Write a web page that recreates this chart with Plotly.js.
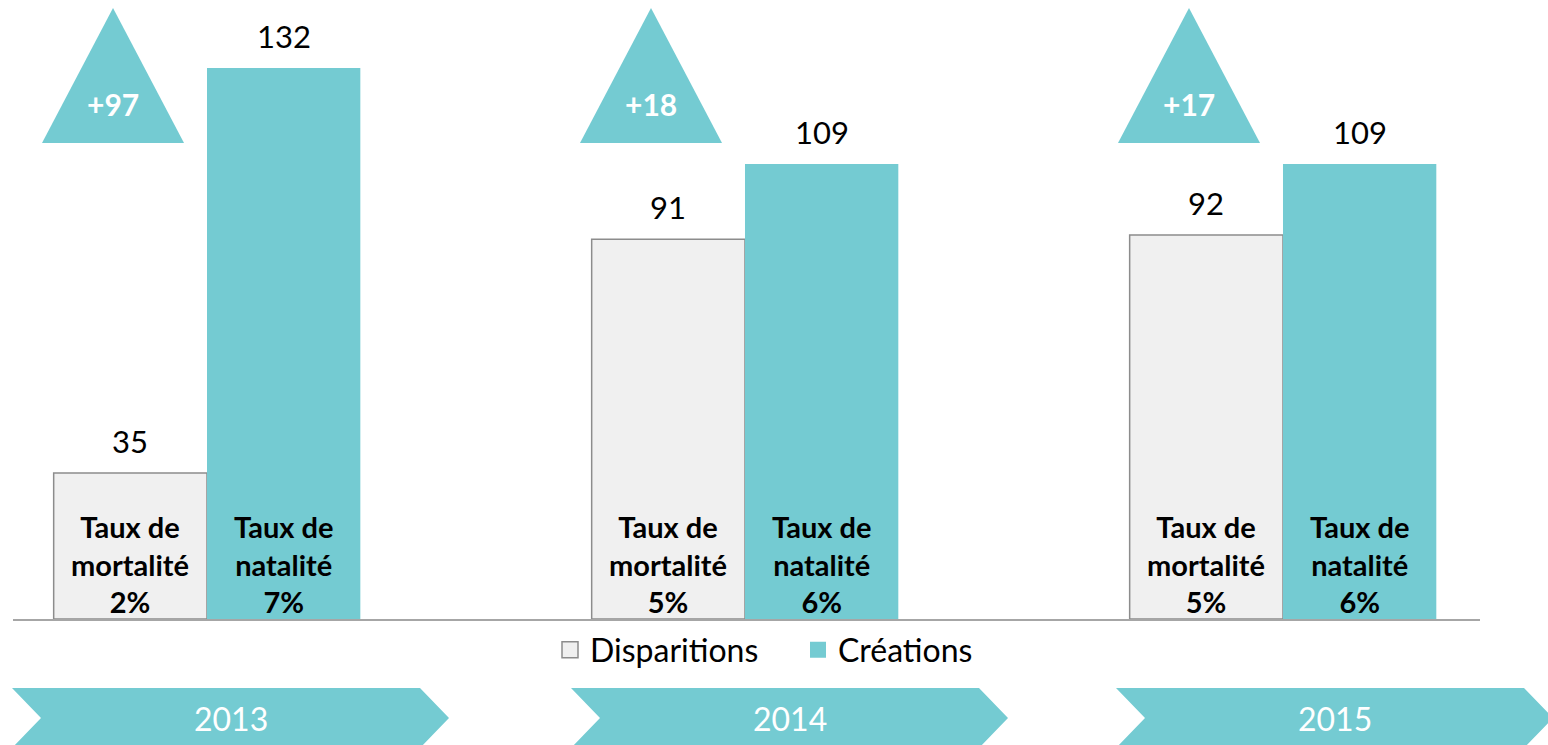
<!DOCTYPE html>
<html>
<head>
<meta charset="utf-8">
<script src="https://cdn.plot.ly/plotly-3.0.1.min.js"></script>
<style>
  html, body { margin: 0; padding: 0; background: #fff; }
  #chart { width: 1548px; height: 745px; }
</style>
</head>
<body>
<div id="chart"></div>
<script>
// --- data ---
const years = ['2013', '2014', '2015'];
const disparitions = [35, 91, 92];
const creations = [132, 109, 109];
const tauxMortalite = ['2%', '5%', '5%'];
const tauxNatalite = ['7%', '6%', '6%'];

// --- layout constants ---
const TEAL = '#74CBD2';
const GREY_FILL = '#F0F0F0';
const GREY_LINE = '#8C8C8C';
const FONT = 'Lato, "Open Sans", sans-serif';

const W = 1548, H = 745;
const M = { l: 13, r: 68, t: 0, b: 126 };
const plotW = W - M.l - M.r;
const plotH = H - M.t - M.b;
const xRange = [-0.3606, 2.3662];
const yRange = [0, 148.3];
const BARGAP = 0.43;
const half = (1 - BARGAP) / 4;          // centre offset of each bar in a group

const xIdx = years.map((_, i) => i);

// pixel helpers -> paper coords
const pxToPaperX = px => (px - M.l) / plotW;
const pxToPaperY = py => (M.t + plotH - py) / plotH;
const idxToPaperX = v => (v - xRange[0]) / (xRange[1] - xRange[0]);

// --- traces ---
const traceDisp = {
    x: xIdx,
    y: disparitions,
    type: 'bar',
    name: 'Disparitions',
    showlegend: false,
    marker: { color: GREY_FILL, line: { color: GREY_LINE, width: 1.5 } },
    hoverinfo: 'skip'
};
const traceCrea = {
    x: xIdx,
    y: creations,
    type: 'bar',
    name: 'Créations',
    showlegend: false,
    marker: { color: TEAL, line: { width: 0 } },
    hoverinfo: 'skip'
};

// legend entries (bigger square keys than the bar legend gives)
const legendDisp = {
    x: [null], y: [null], type: 'scatter', mode: 'markers', name: 'Disparitions',
    marker: { symbol: 'square', size: 16, color: GREY_FILL, line: { color: GREY_LINE, width: 1.5 } }
};
const legendCrea = {
    x: [null], y: [null], type: 'scatter', mode: 'markers', name: 'Créations',
    marker: { symbol: 'square', size: 16, color: TEAL, line: { width: 0 } }
};

// --- annotations ---
const annotations = [];

// values above bars
[[disparitions, -half], [creations, half]].forEach(([vals, off]) => {
    vals.forEach((v, i) => {
        annotations.push({
            x: i + off, y: v, xref: 'x', yref: 'y',
            text: String(v), showarrow: false,
            yanchor: 'bottom', yshift: 11,
            font: { family: FONT, size: 31, color: '#000' }
        });
    });
});

// rates inside bars
years.forEach((y, i) => {
    annotations.push({
        x: i - half, y: 0, xref: 'x', yref: 'y',
        text: `<b>Taux de<br>mortalité<br>${tauxMortalite[i]}</b>`,
        showarrow: false, yanchor: 'bottom', yshift: -2,
        font: { family: FONT, size: 29, color: '#000' }
    });
    annotations.push({
        x: i + half, y: 0, xref: 'x', yref: 'y',
        text: `<b>Taux de<br>natalité<br>${tauxNatalite[i]}</b>`,
        showarrow: false, yanchor: 'bottom', yshift: -2,
        font: { family: FONT, size: 29, color: '#000' }
    });
});

// --- shapes: triangles with net balance ---
const shapes = [];
const triOffset = 0.1747;              // triangle centre, left of group centre
const triHalfW = 71 / plotW;
const triTop = pxToPaperY(8), triBase = pxToPaperY(143);

years.forEach((y, i) => {
    const cx = idxToPaperX(i - triOffset);
    shapes.push({
        type: 'path', xref: 'paper', yref: 'paper',
        path: `M ${cx - triHalfW},${triBase} L ${cx},${triTop} L ${cx + triHalfW},${triBase} Z`,
        fillcolor: TEAL, line: { width: 0 }
    });
    const delta = creations[i] - disparitions[i];
    annotations.push({
        x: cx, y: pxToPaperY(104), xref: 'paper', yref: 'paper',
        text: `<b>+${delta}</b>`, showarrow: false,
        xanchor: 'center', yanchor: 'middle',
        font: { family: FONT, size: 30, color: '#fff' }
    });
});

// --- chevrons with years ---
const chevronLeftPx = [12, 571, 1116];
const CHEV_W = 437, CHEV_NOTCH = 29;
const cTop = pxToPaperY(688), cMid = pxToPaperY(718), cBot = pxToPaperY(748);

years.forEach((y, i) => {
    const l = chevronLeftPx[i];
    const p = pxToPaperX;
    shapes.push({
        type: 'path', xref: 'paper', yref: 'paper',
        path: `M ${p(l)},${cTop} L ${p(l + CHEV_W - CHEV_NOTCH)},${cTop} L ${p(l + CHEV_W)},${cMid} ` +
              `L ${p(l + CHEV_W - CHEV_NOTCH)},${cBot} L ${p(l)},${cBot} L ${p(l + CHEV_NOTCH)},${cMid} Z`,
        fillcolor: TEAL, line: { width: 0 }
    });
    annotations.push({
        x: p(l + CHEV_W / 2), y: cMid, xref: 'paper', yref: 'paper',
        text: y, showarrow: false, xanchor: 'center', yanchor: 'middle',
        font: { family: FONT, size: 32, color: '#fff' }
    });
});

const layout = {
    width: W, height: H,
    margin: M,
    paper_bgcolor: '#fff', plot_bgcolor: '#fff',
    barmode: 'group', bargap: BARGAP, bargroupgap: 0,
    font: { family: FONT, color: '#000' },
    xaxis: {
        range: xRange, showgrid: false, zeroline: false,
        showticklabels: false, ticks: '',
        showline: true, linecolor: '#A6A6A6', linewidth: 2
    },
    yaxis: { range: yRange, visible: false, showgrid: false, zeroline: false },
    showlegend: true,
    legend: {
        orientation: 'h', x: pxToPaperX(798), xanchor: 'center',
        y: pxToPaperY(650), yanchor: 'middle',
        font: { family: FONT, size: 32, color: '#000' },
        itemsizing: 'trace',
        entrywidth: 203,
        bgcolor: 'rgba(0,0,0,0)'
    },
    shapes: shapes,
    annotations: annotations,
    hovermode: false
};

Plotly.newPlot('chart', [traceDisp, traceCrea, legendDisp, legendCrea], layout,
    { displayModeBar: false, staticPlot: true });
</script>
</body>
</html>
